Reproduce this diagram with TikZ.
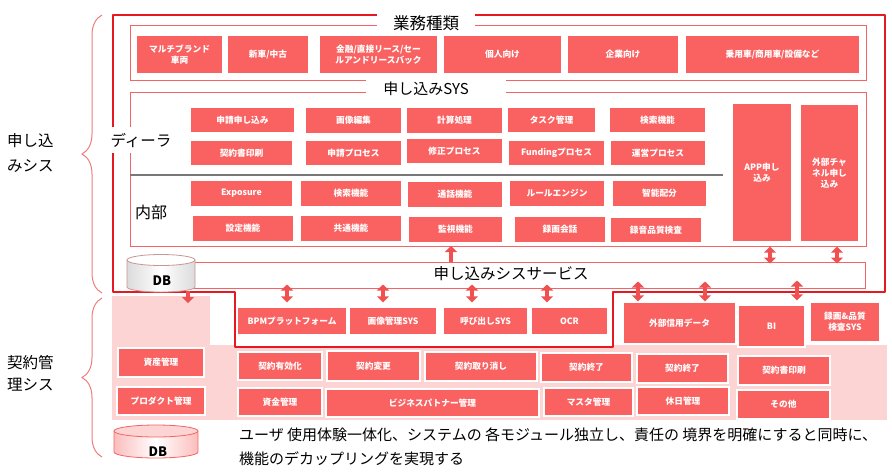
\documentclass[tikz,border=0pt]{standalone}
\usepackage{fontspec}
\setmainfont{Noto Sans CJK JP}
\usetikzlibrary{arrows.meta,decorations.pathreplacing}
\definecolor{boxc}{RGB}{250,97,97}
\definecolor{thickr}{RGB}{230,25,35}
\definecolor{thinr}{RGB}{245,100,100}
\definecolor{pinkbg}{RGB}{252,212,212}
\definecolor{arrc}{RGB}{240,80,80}
\definecolor{bracec}{RGB}{240,125,125}
\definecolor{sepg}{RGB}{120,120,120}
\definecolor{dbl}{RGB}{200,150,150}
\newcommand{\bx}[6]{\node[bx, minimum width={#4-#2}, minimum height={#5-#3}] (#1) at ({(#2+#4)/2},{(#3+#5)/2}) {#6};}
\begin{document}
\begin{tikzpicture}[x=1pt,y=-1pt,
  bx/.style={fill=boxc, draw=white, line width=1.4pt, inner sep=1pt, align=center, text=white,
    font=\fontsize{8.7}{10.7}\selectfont\bfseries},
  thinl/.style={draw=thinr, line width=1pt},
  thickl/.style={draw=thickr, line width=2.4pt, line join=round},
  ttl/.style={fill=white, inner sep=0pt},
  dar/.style={draw=arrc, line width=4.5pt, {Triangle[width=12pt,length=6pt]}-{Triangle[width=12pt,length=6pt]}},
  sar/.style={draw=arrc, line width=4.5pt, -{Triangle[width=12pt,length=6pt]}},
  brc/.style={draw=bracec, line width=1pt, decorate, decoration={brace, amplitude=20pt}},
  sidel/.style={inner sep=0pt, anchor=west, align=left},
  dblbl/.style={inner sep=0pt, font=\fontsize{13}{13}\selectfont\bfseries}
]
\useasboundingbox (0,0) rectangle (892,475);
% backgrounds
\fill[pinkbg] (112,296) rectangle (210,420);
\fill[pinkbg] (112,345) rectangle (887,420);
\fill[white] (113,15) -- (885,15) -- (885,292) -- (613,292) -- (613,347) -- (235,347) -- (235,292) -- (113,292) -- cycle;
\draw[thickl] (377,15) -- (113,15) -- (113,292) -- (235,292) -- (235,347) -- (613,347) -- (613,292) -- (885,292) -- (885,15) -- (475,15);
% thin frames
\draw[thinl] (377,25) -| (130,80) -- (367,80);
\draw[thinl] (475,25) -| (866,80) -- (506,80);
\draw[thinl] (367,92) -| (130,246) -| (866,92) -- (506,92);
\coordinate (sysbot) at (498,246);
\draw[draw=sepg, line width=2.5pt] (130,175) -- (723,175);
% service band
\node[draw=thinr, line width=1pt, minimum width=735, minimum height=26, inner sep=0pt] (band) at (497.5,275) {};
\node[ttl, minimum width=210, minimum height=22, font=\fontsize{15.5}{16}\selectfont] (svcl) at (511,274) {申し込みシスサービス};
% titles
\node[ttl, minimum width=98, minimum height=24, font=\fontsize{16.5}{18}\selectfont] (t1) at (426,23) {業務種類};
\node[ttl, minimum width=120, minimum height=18, font=\fontsize{15}{16}\selectfont] (t2) at (426,89) {申し込みSYS};
\node[ttl, minimum width=60, minimum height=26, font=\fontsize{15.5}{16}\selectfont] (dealer) at (141,140) {ディーラ};
\node[inner sep=0pt, font=\fontsize{16}{16}\selectfont] (naibu) at (151,212) {内部};
% business types
\bx{b1}{136}{35}{223}{74}{マルチブランド\\車両}
\bx{b2}{227}{35}{309}{74}{新車/中古}
\bx{b3}{319}{35}{438}{74}{金融/直接リース/セー\\ルアンドリースバック}
\bx{b4}{443}{35}{562}{74}{個人向け}
\bx{b5}{567}{35}{679}{74}{企業向け}
\bx{b6}{685}{35}{860}{74}{乗用車/商用車/設備など}
% dealer
\bx{d1}{190}{107}{295}{133}{申請申し込み}
\bx{d2}{305}{107}{402}{134}{画像編集}
\bx{d3}{406}{107}{503}{134}{計算処理}
\bx{d4}{507}{107}{596}{133}{タスク管理}
\bx{d5}{609}{107}{706}{133}{検索機能}
\bx{d6}{190}{140}{293}{166}{契約書印刷}
\bx{d7}{305}{140}{402}{166}{申請プロセス}
\bx{d8}{406}{138}{503}{164}{修正プロセス}
\bx{d9}{508}{140}{605}{166}{Fundingプロセス}
\bx{d10}{610}{140}{706}{166}{運営プロセス}
% internal
\bx{i1}{190}{180}{293}{207}{Exposure}
\bx{i2}{300}{180}{402}{207}{検索機能}
\bx{i3}{407}{181}{503}{208}{通話機能}
\bx{i4}{509}{180}{605}{207}{ルールエンジン}
\bx{i5}{612}{180}{707}{207}{智能配分}
\bx{i6}{192}{215}{294}{242}{設定機能}
\bx{i7}{300}{215}{402}{242}{共通機能}
\bx{i8}{408}{216}{503}{243}{監視機能}
\bx{i9}{514}{216}{606}{243}{録画会話}
\bx{i10}{610}{217}{702}{243}{録音品質検査}
% tall
\bx{app}{732}{103}{792}{242}{APP申し\\込み}
\bx{ext}{800}{104}{859}{242}{外部チャ\\ネル申し\\込み}
% lower services
\bx{bpm}{237}{307}{347}{335}{BPMプラットフォーム}
\bx{img}{349}{307}{437}{335}{画像管理SYS}
\bx{call}{443}{307}{528}{335}{呼び出しSYS}
\bx{ocr}{531}{307}{608}{335}{OCR}
\bx{cred}{623}{302}{736}{344}{外部信用データ}
\bx{bi}{738}{305}{805}{347}{BI}
\bx{rec}{810}{302}{880}{342}{録画\&品質\\検査SYS}
% contract
\bx{c1}{118}{348}{204}{377}{資産管理}
\bx{c2}{117}{387}{205}{415}{プロダクト管理}
\bx{c3}{238}{352}{322}{380}{契約有効化}
\bx{c4}{327}{351}{420}{381}{契約変更}
\bx{c5}{425}{352}{537}{381}{契約取り消し}
\bx{c6}{541}{353}{632}{382}{契約終了}
\bx{c7}{637}{354}{728}{383}{契約終了}
\bx{c8}{738}{356}{830}{385}{契約書印刷}
\bx{c9}{238}{388}{322}{416}{資金管理}
\bx{c10}{326}{389}{539}{417}{ビジネスパトナー管理}
\bx{c11}{544}{388}{633}{416}{マスタ管理}
\bx{c12}{637}{387}{729}{415}{休日管理}
\bx{c13}{737}{390}{830}{419}{その他}
% DB cylinders
\shade[left color=black!14, right color=black!14, middle color=white] (127,260) -- (127,287) arc[start angle=180, end angle=0, x radius=34, y radius=5] -- (195,260) -- cycle;
\draw[draw=dbl, line width=0.8pt] (127,260) -- (127,287) arc[start angle=180, end angle=0, x radius=34, y radius=5] -- (195,260);
\filldraw[fill=white, draw=dbl, line width=0.8pt] (161,260) ellipse [x radius=34, y radius=5.5];
\node[dblbl] (db1) at (162,281) {DB};
\shade[left color=pinkbg!80!boxc, right color=pinkbg!80!boxc, middle color=white] (114,431) -- (114,452) arc[start angle=180, end angle=0, x radius=42, y radius=6] -- (198,431) -- cycle;
\draw[draw=thinr, line width=0.8pt] (114,431) -- (114,452) arc[start angle=180, end angle=0, x radius=42, y radius=6] -- (198,431);
\filldraw[fill=pinkbg, draw=thinr, line width=0.8pt] (156,431) ellipse [x radius=42, y radius=6];
\node[dblbl] (db2) at (158,452) {DB};
\coordinate (dbout) at (188,291);
\coordinate (dbin) at (188,303);
% arrows
\draw[sar] (dbout) -- (dbin);
\draw[sar] (451,0 |- band.north) -- (451,0 |- sysbot);
\draw[dar, shorten <=4pt, shorten >=-2pt] (770,0 |- app.south) -- (770,0 |- band.north);
\draw[dar, shorten <=4pt, shorten >=-2pt] (837,0 |- ext.south) -- (837,0 |- band.north);
\draw[dar, shorten <=-4pt, shorten >=4pt] (287,0 |- band.south) -- (287,0 |- bpm.north);
\draw[dar, shorten <=-4pt, shorten >=4pt] (383,0 |- band.south) -- (383,0 |- img.north);
\draw[dar, shorten <=-4pt, shorten >=4pt] (472,0 |- band.south) -- (472,0 |- call.north);
\draw[dar, shorten <=-4pt, shorten >=4pt] (547,0 |- band.south) -- (547,0 |- ocr.north);
\draw[dar, shorten <=-7pt, shorten >=0pt] (638,0 |- band.south) -- (638,0 |- cred.north);
\draw[dar, shorten <=-7pt, shorten >=0pt] (705,0 |- band.south) -- (705,0 |- cred.north);
\draw[dar, shorten <=-8pt, shorten >=4pt] (797,0 |- band.south) -- (797,0 |- bi.north);
% braces and side labels
\draw[brc] (102,293) -- (102,15);
\draw[brc] (102,457) -- (102,298);
\node[sidel, font=\fontsize{15.5}{25}\selectfont] (lab1) at (7,153) {申し込\\みシス};
\node[sidel, font=\fontsize{15.5}{22}\selectfont] (lab2) at (7,373) {契約管\\理シス};
% bottom text
\node[anchor=north west, inner sep=0pt, align=left, font=\fontsize{15}{24}\selectfont] (note) at (239,428) {ユーザ 使用体験一体化、システムの 各モジュール独立し、責任の 境界を明確にすると同時に、\\機能のデカップリングを実現する};
\end{tikzpicture}
\end{document}
